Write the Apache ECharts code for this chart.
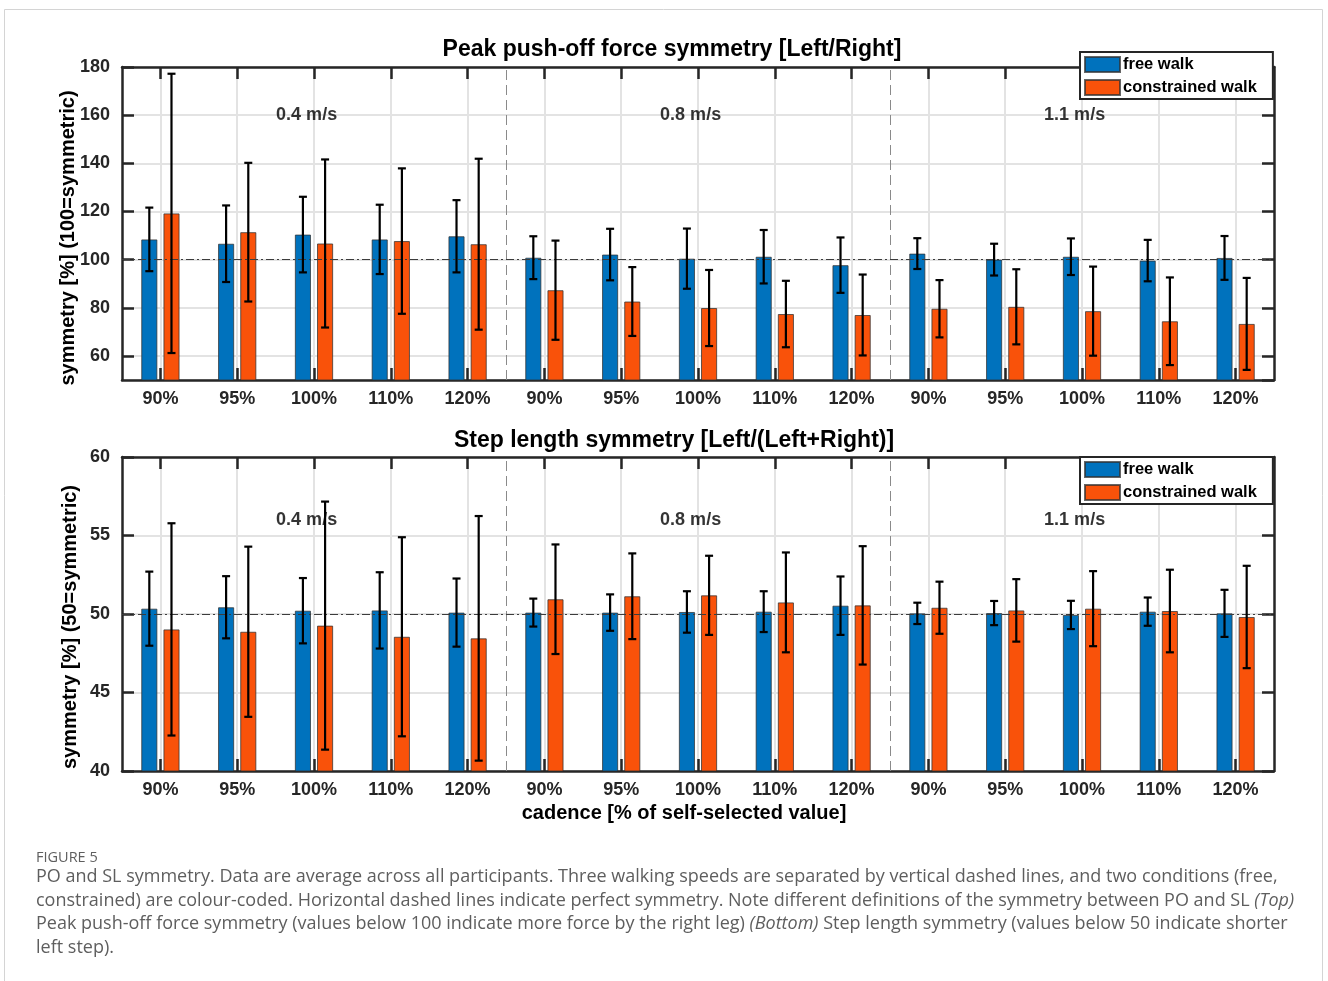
<!DOCTYPE html>
<html><head><meta charset="utf-8">
<script src="https://cdn.jsdelivr.net/npm/echarts@6/dist/echarts.min.js"></script>
<style>html,body{margin:0;padding:0;background:#fff}#c{width:1328px;height:981px}</style>
</head><body><div id="c"></div>
<script>
// ---------- data ----------
const categories = ['90%','95%','100%','110%','120%','90%','95%','100%','110%','120%','90%','95%','100%','110%','120%'];
const speedLabels = ['0.4 m/s','0.8 m/s','1.1 m/s'];
const speedLabelX = [1.5, 6.5, 11.5];
const speedSeparators = [4.5, 9.5];
const seriesNames = ['free walk','constrained walk'];

// Peak push-off force symmetry [Left/Right]  (mean, SD)
const poFreeMean = [108.4,106.6,110.4,108.4,109.7,100.8,102.1,100.4,101.2,97.7,102.5,100.0,101.2,99.6,100.7];
const poFreeSD   = [13.2,15.9,15.7,14.4,15.0,8.9,10.7,12.5,11.1,11.5,6.4,6.6,7.6,8.6,9.1];
const poConMean  = [119.2,111.4,106.7,107.7,106.4,87.3,82.6,79.9,77.4,77.0,79.6,80.4,78.6,74.4,73.3];
const poConSD    = [58.0,28.8,34.9,30.2,35.5,20.6,14.3,15.8,13.8,16.8,11.9,15.6,18.5,18.2,19.1];

// Step length symmetry [Left/(Left+Right)]  (mean, SD)
const slFreeMean = [50.34,50.43,50.21,50.23,50.09,50.09,50.09,50.13,50.15,50.53,50.04,50.06,49.94,50.15,50.04];
const slFreeSD   = [2.36,1.98,2.08,2.43,2.17,0.89,1.16,1.32,1.30,1.86,0.68,0.77,0.90,0.90,1.50];
const slConMean  = [49.02,48.87,49.26,48.55,48.45,50.94,51.13,51.19,50.74,50.55,50.40,50.23,50.34,50.19,49.81];
const slConSD    = [6.76,5.42,7.90,6.34,7.79,3.49,2.73,2.52,3.18,3.77,1.66,1.99,2.39,2.63,3.26];

const poSymmetric = 100, slSymmetric = 50;
const poLabelY = 160, slLabelY = 56;

// ---------- styling ----------
const FONT = '"Liberation Sans", Arial, Helvetica, sans-serif';
const CAPFONT = '"Open Sans", Lato, sans-serif';
const AX = '#262626';
const BLUE = '#0072BD', ORANGE = '#F9520A';
const BAR_FRAC = 0.21, GAP_FRAC = 0.375;

function catAxis(gridIndex, pos) {
  const bottom = pos === 'bottom';
  return {
    type: 'category', gridIndex, position: pos, data: categories, boundaryGap: true,
    axisLine: { show: true, onZero: false, lineStyle: { color: AX, width: 2.5 } },
    axisTick: { show: true, inside: true, alignWithLabel: true, length: 12, lineStyle: { color: AX, width: 2.5 } },
    axisLabel: bottom ? { show: true, interval: 0, margin: 10, fontSize: 18, fontWeight: 'bold', color: AX, fontFamily: FONT } : { show: false },
    splitLine: bottom ? { show: true, alignWithLabel: true, interval: 0, lineStyle: { color: '#e3e3e3', width: 2 } } : { show: false }
  };
}
function hiddenX(gridIndex) {
  return { type: 'value', gridIndex, min: -0.5, max: 14.5, show: false };
}
function valAxis(gridIndex, pos, min, max, extra) {
  const left = pos === 'left';
  return Object.assign({
    type: 'value', gridIndex, position: pos, min, max,
    axisLine: { show: true, onZero: false, lineStyle: { color: AX, width: 2.5 } },
    axisTick: { show: true, inside: true, length: 12, lineStyle: { color: AX, width: 2.5 } },
    axisLabel: left ? { show: true, margin: 12, fontSize: 18, fontWeight: 'bold', color: AX, fontFamily: FONT, showMinLabel: extra && extra.hideMin ? false : true } : { show: false },
    splitLine: left ? { show: true, lineStyle: { color: '#e3e3e3', width: 2 } } : { show: false }
  }, extra && extra.axis ? extra.axis : {});
}

function barSeries(name, mean, color, xi, yi) {
  return {
    name, type: 'bar', xAxisIndex: xi, yAxisIndex: yi, data: mean,
    barWidth: (BAR_FRAC * 100) + '%', barGap: (GAP_FRAC * 100) + '%',
    itemStyle: { color, borderColor: 'rgba(50,50,50,0.75)', borderWidth: 1 },
    z: 2, silent: true
  };
}
function errSeries(mean, sd, side, xi, yi) {
  return {
    type: 'custom', xAxisIndex: xi, yAxisIndex: yi, z: 10, silent: true,
    data: mean.map((m, i) => [i, m - sd[i], m + sd[i]]),
    encode: { x: 0, y: [1, 2] },
    renderItem(params, api) {
      const i = api.value(0);
      const lo = api.coord([i, api.value(1)]);
      const hi = api.coord([i, api.value(2)]);
      const band = api.size([1, 0])[0];
      const bw = band * BAR_FRAC;
      const x = lo[0] + side * bw * (1 + GAP_FRAC) / 2;
      const cap = 4;
      const st = { stroke: '#000', lineWidth: 2.2 };
      return { type: 'group', children: [
        { type: 'line', shape: { x1: x, y1: lo[1], x2: x, y2: hi[1] }, style: st },
        { type: 'line', shape: { x1: x - cap, y1: lo[1], x2: x + cap, y2: lo[1] }, style: st },
        { type: 'line', shape: { x1: x - cap, y1: hi[1], x2: x + cap, y2: hi[1] }, style: st }
      ]};
    }
  };
}
function annotSeries(xi, yi, labelY, symY) {
  return {
    type: 'scatter', xAxisIndex: xi, yAxisIndex: yi, silent: true, z: 5,
    symbolSize: 1, itemStyle: { color: 'rgba(0,0,0,0)' },
    data: speedLabelX.map(x => [x, labelY]),
    label: { show: true, position: 'right', distance: 0, formatter: p => speedLabels[p.dataIndex],
      fontSize: 18, fontWeight: 'bold', color: '#000', fontFamily: FONT },
    markLine: {
      silent: true, symbol: 'none', z: 5, animation: false,
      label: { show: false },
      data: speedSeparators.map(s => ({ xAxis: s, lineStyle: { color: '#8a8a8a', width: 1, type: [10, 5] } }))
        .concat([{ yAxis: symY, lineStyle: { color: '#3c3c3c', width: 1, type: [8, 3, 2, 3] } }])
    }
  };
}
function legend(top) {
  return {
    show: true, orient: 'vertical', left: 1080, top, data: seriesNames,
    icon: 'rect', itemWidth: 35, itemHeight: 15, itemGap: 6,
    backgroundColor: '#fff', borderColor: AX, borderWidth: 2, padding: [4, 16, 3, 4],
    textStyle: { fontSize: 16.5, fontWeight: 'bold', color: '#000', fontFamily: FONT, padding: [0, 0, 0, -2] },
    selectedMode: false, z: 20
  };
}
function txt(x, y, text, size, opts) {
  return Object.assign({ type: 'text', x, y, z: 30, silent: true,
    style: Object.assign({ text, fontSize: size, fontWeight: 'bold', fontFamily: FONT, fill: '#000',
      textAlign: 'center', textVerticalAlign: 'middle' }, opts && opts.style || {}) }, opts && opts.el || {});
}

const capStyle = { fontSize: 18, fontWeight: 'normal', fontFamily: CAPFONT, fill: '#5e5e5e', textAlign: 'left',
  rich: { i: { fontStyle: 'italic', fontSize: 18, fontFamily: CAPFONT, fill: '#5e5e5e' } } };
const captionLines = [
  'PO and SL symmetry. Data are average across all participants. Three walking speeds are separated by vertical dashed lines, and two conditions (free,',
  'constrained) are colour-coded. Horizontal dashed lines indicate perfect symmetry. Note different definitions of the symmetry between PO and SL {i|(Top)}',
  'Peak push-off force symmetry (values below 100 indicate more force by the right leg) {i|(Bottom)} Step length symmetry (values below 50 indicate shorter',
  'left step).'
];
const captionY = [877, 900.5, 924, 947.5];

const option = {
  animation: false,
  backgroundColor: '#fff',
  grid: [
    { left: 122, top: 67, width: 1152, height: 313 },
    { left: 122, top: 457, width: 1152, height: 314 }
  ],
  xAxis: [catAxis(0, 'bottom'), catAxis(0, 'top'), hiddenX(0), catAxis(1, 'bottom'), catAxis(1, 'top'), hiddenX(1)],
  yAxis: [
    valAxis(0, 'left', 50, 180, { hideMin: true, axis: { splitNumber: 6 } }),
    valAxis(0, 'right', 50, 180, { axis: { splitNumber: 6 } }),
    valAxis(1, 'left', 40, 60, { axis: { interval: 5 } }),
    valAxis(1, 'right', 40, 60, { axis: { interval: 5 } })
  ],
  legend: [legend(52), legend(457)],
  series: [
    barSeries(seriesNames[0], poFreeMean, BLUE, 0, 0),
    barSeries(seriesNames[1], poConMean, ORANGE, 0, 0),
    errSeries(poFreeMean, poFreeSD, -1, 0, 0),
    errSeries(poConMean, poConSD, 1, 0, 0),
    annotSeries(2, 0, poLabelY, poSymmetric),
    barSeries(seriesNames[0], slFreeMean, BLUE, 3, 2),
    barSeries(seriesNames[1], slConMean, ORANGE, 3, 2),
    errSeries(slFreeMean, slFreeSD, -1, 3, 2),
    errSeries(slConMean, slConSD, 1, 3, 2),
    annotSeries(5, 2, slLabelY, slSymmetric)
  ],
  graphic: [
    { type: 'rect', silent: true, z: 0, shape: { x: 4.5, y: 9.5, width: 1318, height: 990 }, style: { fill: 'none', stroke: '#d4d4d4', lineWidth: 1 } },
    txt(672, 50, 'Peak push-off force symmetry [Left/Right]', 23),
    txt(674, 441, 'Step length symmetry [Left/(Left+Right)]', 23),
    txt(68, 238, 'symmetry [%] (100=symmetric)', 20, { el: { rotation: Math.PI / 2 } }),
    txt(70, 627, 'symmetry [%] (50=symmetric)', 20, { el: { rotation: Math.PI / 2 } }),
    txt(684, 813, 'cadence [% of self-selected value]', 20),
    txt(36, 858, 'FIGURE 5', 14.5, { style: { fontWeight: 'normal', fontFamily: CAPFONT, fill: '#5e5e5e', textAlign: 'left' } })
  ].concat(captionLines.map((t, k) => txt(36, captionY[k], t, 18, { style: capStyle })))
};

const chart = echarts.init(document.getElementById('c'), null, { renderer: 'canvas' });
chart.setOption(option);
</script>
</body></html>
